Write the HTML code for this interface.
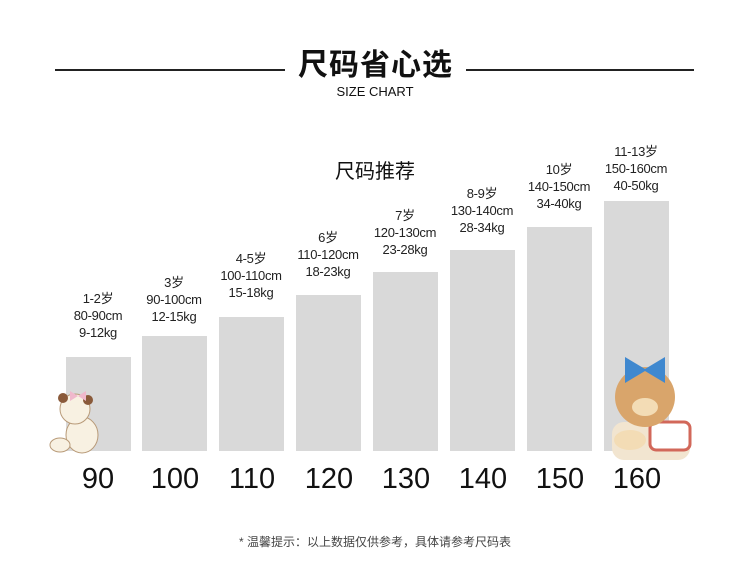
<!DOCTYPE html>
<html><head><meta charset="utf-8"><style>
body{margin:0;width:750px;height:576px;background:#fff;position:relative;overflow:hidden;font-family:"Liberation Sans","Noto Sans CJK SC",sans-serif;color:#111}
.a{position:absolute}
.bar{position:absolute;background:#d9d9d9;width:65px;bottom:125px}
.lab{position:absolute;width:100px;text-align:center;font-size:13px;line-height:17px;color:#222;letter-spacing:-0.3px}
.num{position:absolute;width:90px;text-align:center;font-size:29px;top:463px;color:#111}
</style></head><body>
<div class="a" style="left:55px;top:69px;width:230px;height:2px;background:#222"></div>
<div class="a" style="left:466px;top:69px;width:228px;height:2px;background:#222"></div>
<div class="a" style="left:285px;top:40px;width:181px;text-align:center;font-size:30px;font-weight:bold;letter-spacing:1px">尺码省心选</div>
<div class="a" style="left:275px;top:84px;width:200px;text-align:center;font-size:13px">SIZE CHART</div>
<div class="a" style="left:275px;top:155px;width:200px;text-align:center;font-size:20px">尺码推荐</div>

<div class="bar" style="left:66px;top:357px"></div>
<div class="bar" style="left:142px;top:336px"></div>
<div class="bar" style="left:219px;top:317px"></div>
<div class="bar" style="left:296px;top:295px"></div>
<div class="bar" style="left:373px;top:272px"></div>
<div class="bar" style="left:450px;top:250px"></div>
<div class="bar" style="left:527px;top:227px"></div>
<div class="bar" style="left:604px;top:201px"></div>

<div class="lab" style="left:48px;top:290px">1-2岁<br>80-90cm<br>9-12kg</div>
<div class="lab" style="left:124px;top:274px">3岁<br>90-100cm<br>12-15kg</div>
<div class="lab" style="left:201px;top:250px">4-5岁<br>100-110cm<br>15-18kg</div>
<div class="lab" style="left:278px;top:229px">6岁<br>110-120cm<br>18-23kg</div>
<div class="lab" style="left:355px;top:207px">7岁<br>120-130cm<br>23-28kg</div>
<div class="lab" style="left:432px;top:185px">8-9岁<br>130-140cm<br>28-34kg</div>
<div class="lab" style="left:509px;top:161px">10岁<br>140-150cm<br>34-40kg</div>
<div class="lab" style="left:586px;top:143px">11-13岁<br>150-160cm<br>40-50kg</div>

<div class="num" style="left:53px">90</div>
<div class="num" style="left:130px">100</div>
<div class="num" style="left:207px">110</div>
<div class="num" style="left:284px">120</div>
<div class="num" style="left:361px">130</div>
<div class="num" style="left:438px">140</div>
<div class="num" style="left:515px">150</div>
<div class="num" style="left:592px">160</div>

<svg class="a" style="left:40px;top:385px" width="70" height="75">
<ellipse cx="42" cy="50" rx="16" ry="18" fill="#f8f1e2" stroke="#b89a78"/>
<ellipse cx="20" cy="60" rx="10" ry="7" fill="#f8f1e2" stroke="#b89a78"/>
<circle cx="35" cy="24" r="15" fill="#f8f1e2" stroke="#b89a78"/>
<circle cx="23" cy="13" r="5" fill="#8a5a3a"/><circle cx="48" cy="15" r="5" fill="#8a5a3a"/>
<path d="M30 6 l8 5 l8 -5 v10 l-8 -5 l-8 5z" fill="#f0b8cc"/>
</svg>
<svg class="a" style="left:600px;top:352px" width="95" height="108">
<rect x="12" y="70" width="78" height="38" rx="12" fill="#f2e5d0"/>
<rect x="50" y="70" width="40" height="28" rx="6" fill="#fff" stroke="#d2685a" stroke-width="3"/>
<circle cx="45" cy="45" r="30" fill="#d9a56b"/>
<ellipse cx="45" cy="55" rx="13" ry="9" fill="#f3dcb5"/>
<path d="M25 5 l20 12 l20 -12 v26 l-20 -12 l-20 12z" fill="#3f88cf"/>
<ellipse cx="30" cy="88" rx="16" ry="10" fill="#f3dcb5"/>
</svg>

<div class="a" style="left:150px;top:533px;width:450px;text-align:center;font-size:12px;color:#444">* 温馨提示：以上数据仅供参考，具体请参考尺码表</div>
</body></html>
